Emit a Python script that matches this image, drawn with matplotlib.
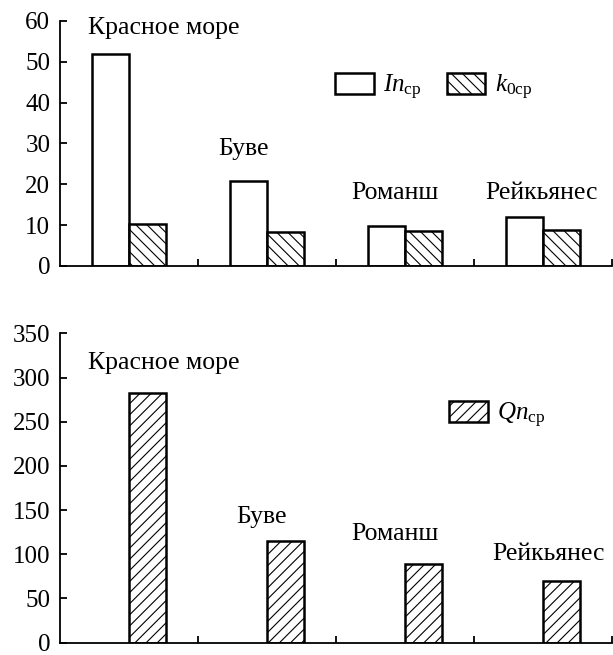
import numpy as np
import matplotlib
matplotlib.use("Agg")
import matplotlib.pyplot as plt

plt.rcParams["font.family"] = ["Liberation Serif", "DejaVu Serif"]
plt.rcParams["mathtext.fontset"] = "custom"
plt.rcParams["mathtext.rm"] = "Liberation Serif"
plt.rcParams["mathtext.it"] = "Liberation Serif:italic"
plt.rcParams["hatch.linewidth"] = 0.8

# данные
regions = ["Красное море", "Буве", "Романш", "Рейкьянес"]
in_cp = [52.0, 20.8, 9.9, 12.1]
k0_cp = [10.2, 8.3, 8.6, 8.8]
qn_cp = [282, 115, 88.6, 69.2]

# позиции подписей (в единицах данных)
top_lbl_x = [0.754, 1.33, 2.43, 3.49]
top_lbl_y = [58.3, 28.6, 17.8, 17.8]
bot_lbl_x = [0.754, 1.46, 2.43, 3.54]
bot_lbl_y = [316.6, 142, 123, 100.5]

fig = plt.figure(figsize=(6.13, 6.55), dpi=100)
ax1 = fig.add_axes([0.098, 0.594, 0.9, 0.374])
ax2 = fig.add_axes([0.098, 0.019, 0.9, 0.472])

centers = np.arange(len(regions)) + 0.5
w = 0.27
fs = 18.5

def style(ax, ymax, step):
    ax.set_xlim(0, 4)
    ax.set_ylim(0, ymax)
    ax.set_yticks(np.arange(0, ymax + 1, step))
    ax.set_xticks([1, 2, 3, 4])
    ax.set_xticklabels([])
    for s in ["top", "right"]:
        ax.spines[s].set_visible(False)
    for s in ["left", "bottom"]:
        ax.spines[s].set_linewidth(1.3)
    ax.tick_params(direction="in", length=5, width=1.3, labelsize=18, pad=7)

ax1.bar(centers - w / 2, in_cp, w, color="white", edgecolor="black", linewidth=1.8,
        label=r"$In_{\mathrm{ср}}$")
ax1.bar(centers + w / 2, k0_cp, w, color="white", edgecolor="black", linewidth=1.8,
        hatch="\\\\\\", label=r"$k_{0\mathrm{ср}}$")
style(ax1, 60, 10)
for t, x, y in zip(regions, top_lbl_x, top_lbl_y):
    ax1.text(x, y, t, ha="center", va="center", fontsize=fs)
ax1.legend(loc="center left", bbox_to_anchor=(0.498, 0.73), ncol=2, frameon=False,
           fontsize=18, handlelength=1.55, handleheight=0.95, columnspacing=1.0,
           handletextpad=0.37, borderpad=0, borderaxespad=0)

ax2.bar(centers + w / 2, qn_cp, w, color="white", edgecolor="black", linewidth=1.8,
        hatch="///", label=r"$Qn_{\mathrm{ср}}$")
style(ax2, 350, 50)
for t, x, y in zip(regions, bot_lbl_x, bot_lbl_y):
    ax2.text(x, y, t, ha="center", va="center", fontsize=fs)
ax2.legend(loc="center left", bbox_to_anchor=(0.705, 0.735), frameon=False,
           fontsize=18, handlelength=1.55, handleheight=0.95, handletextpad=0.37,
           borderpad=0, borderaxespad=0)

fig.savefig("out.png", dpi=100)
